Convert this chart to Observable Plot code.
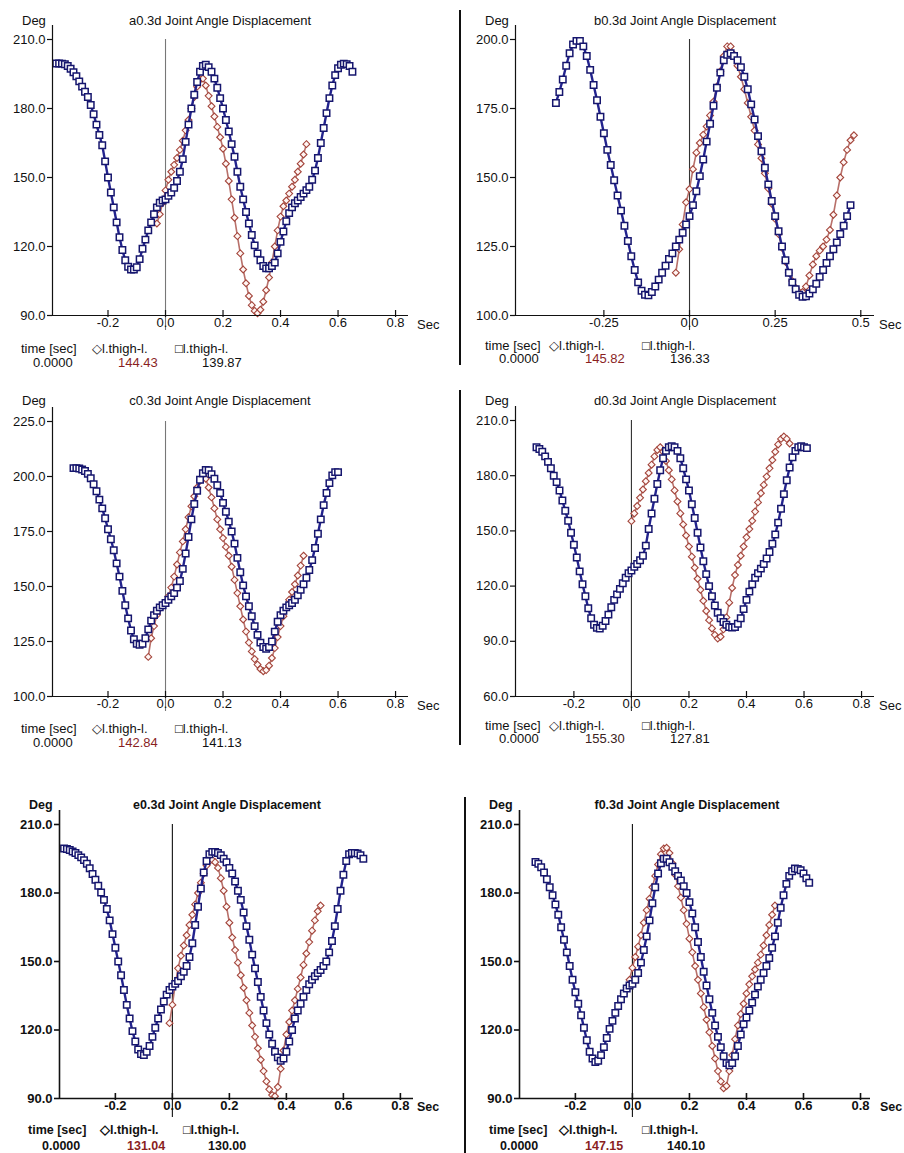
<!DOCTYPE html>
<html><head><meta charset="utf-8">
<script src="https://cdn.jsdelivr.net/npm/d3@7"></script>
<script src="https://cdn.jsdelivr.net/npm/@observablehq/plot@0.6"></script>
<style>
body{margin:0;background:#fff;}
#page{position:relative;width:904px;height:1153px;overflow:hidden;font-family:"Liberation Sans",Arial,sans-serif;color:#111;background:#fff;}
.t{position:absolute;white-space:nowrap;font-size:13px;line-height:1;transform:translateY(-50%);}
.c{transform:translate(-50%,-50%);}
.b{font-weight:bold;font-size:12.5px;}
.sep{position:absolute;width:1.5px;background:#111;}
.pl{position:absolute;}
</style></head><body><div id="page"></div>
<script>
// ---------- data (sampled every 0.01 s) ----------
const step = 0.01;
const xTicks02 = [-0.2, 0, 0.2, 0.4, 0.6, 0.8];
const xTicks025 = [-0.25, 0, 0.25, 0.5];
const yTicksA = [90, 120, 150, 180, 210];
const yTicksB = [100, 125, 150, 175, 200];
const yTicksC = [100, 125, 150, 175, 200, 225];
const yTicksD = [60, 90, 120, 150, 180, 210];

const aBlueStart = -0.38;
const aBlue = [199.6,199.6,199.5,199.2,198.5,197.3,195.8,194,191.8,189.5,187.3,185,181.5,177.5,173,168.5,164,157,150,143.5,137,130.5,124,118.5,114,111.2,110,110,111,114.5,119,123,127,130.5,134,137,139,140,140.5,142,143.5,145.5,148.5,152.5,158,165.5,173,180,186,191.5,196,198.5,199,198,196,193,189,184.5,180,175,170,164.5,159,152.5,146,140.5,135,130,125,120.5,117,114,111.5,110.5,110.5,111.5,113,117,122,126.5,131,134.5,137,138.8,140,141.5,143,144.5,146,149,153,158.5,165,171.5,178,184.5,190,194.5,197.5,199,199.5,199.3,198.5,196];
const aRedStart = -0.03;
const aRed = [130,134,139,144.4,149,152.5,155.5,158.5,162,166,170.5,175,180,185,189.5,192.5,193,190,185.5,181,176.5,172,167.5,162.5,156,148.5,140.5,132.5,124.5,117,110,104,98.5,94.5,92,91,92.5,96,101,106.5,113,120,127,133,137.5,140,143,146,149,152.5,156,160,164.5];

const bBlueStart = -0.39;
const bBlue = [177,181,185.5,190.5,195,198.2,199.5,199.5,197.5,194,189,183.5,178,172,166,160,154.5,149,143.5,138,132.5,127,121.5,116.5,112,109,107.5,107.3,108.5,110.5,113,115.5,118,120.5,122.5,125,127.5,130,133,136,140,145,150.5,156.5,163,169.5,176,182.5,188,192.5,194.5,195,194,192.5,190,186.5,182,176.5,171,165,159.5,153.5,147.5,141.5,136,130.5,125,120,115.5,112,109.5,107.5,106.8,107,108,109.5,111.5,114,116.5,119,121.5,124,126.5,129.5,132.5,136,140];
const bRedStart = -0.04;
const bRed = [115.5,124,133,141,145.8,153,159,162.5,165.5,168.5,172.5,177.5,183,188.5,194,197.5,197.5,194.5,190.5,186.5,182,177,172,167,162,157,151.5,146,140.5,135,129.5,124.5,119.5,115.5,112.5,110,108.5,108.5,110.5,114.5,118.5,121.5,123.5,125,127.5,131,136.5,143.5,150,155.5,160,163.5,165.3];

const cBlueStart = -0.32;
const cBlue = [203.8,203.8,203.6,203.2,202.5,201.2,199.2,196.5,193.3,189.5,185.5,181,176,171.5,166.5,160.5,154.5,148,141.5,135.5,130,126,124,123.5,124,126.5,130.5,134.5,137,139,140.5,141.5,142.5,144,145.5,147,149.5,152.5,158,165,172.5,180.5,187.5,193.5,198.5,201.5,203,202.8,201,199,196,192.5,188,184,179.5,175,169.5,163,156.5,150.5,145.5,141,136.5,132,128,124.5,122.5,121.7,122.5,125,129.5,134,137,139,140.5,141.5,142.5,144,146,148.5,151,154,157.5,162,167.5,174,180.5,187,192.5,197,200.5,202,202];
const cRedStart = -0.06;
const cRed = [118,126.5,132,137,140,141.5,142.8,145.5,149.5,154.5,160,165.5,170.5,176,181.5,186.5,191,195,198,199.5,199,195,190.5,185.5,180.5,176,172,168,164,159,153,147,141,135,129.5,124.5,120.5,117,114.5,112.5,111.5,112,114,117.5,122,127,132,136.5,140.5,144,147.5,151,155,159.5,164];

const dBlueStart = -0.33;
const dBlue = [195.5,194.5,193,190.5,187.5,184,180,176.5,172,166.5,161,155.5,149,142.5,135.5,128,121,114.5,108,102.5,99,97.3,97,98.5,101,104.5,108.5,112.5,115.5,118.5,121.5,124.5,127,128.5,130.5,132,134,136.5,142,151,159.5,167.5,175.5,183,189.5,193.5,195.5,196,195.5,193.5,189.5,184,178,172,164.5,157,149,141,133.5,126.5,120,114.5,109.5,105.5,102.5,100.5,99,97.8,97.5,97.7,99.5,102.5,107.5,112.5,117,121,124.5,127,129.5,132,135,138.5,143,148,154.5,162,170,177.5,184.5,190,193.5,195.5,196,195.5,195];
const dRedStart = 0;
const dRed = [155.3,159.5,163.5,168,172.5,177,181.5,186,190.5,194,195.5,193,188,183,178,172,166,159.5,153.5,147.5,141.5,136,130,124,118,112,106.5,101.5,97,93.5,91.5,92.5,96.5,103,111,119,126,131.5,136.5,141.5,146.5,151,155.5,160.5,165.5,170.5,175,179.5,184,188.5,193,197,200,201.3,200,197.5];

const eBlueStart = -0.38;
const eBlue = [199.5,199.3,198.8,198.2,197.5,196.6,195.6,194.4,192.8,190.8,188.3,185.8,183.2,180.2,177,173,168,162,156,150,144,137.5,131,125,119.5,115,111.5,109.5,109,110.5,113,117,121,125,129,132.5,135.5,137.5,139,140.2,141.5,143.5,145.5,148,152,158,166,174,182,189,194,197,198,198,197.5,196.6,195,193.5,191,188.5,185,181,177,171.5,165.5,159.5,153,147,141,134.5,128.5,123,118,114,110.5,108,106.5,107.5,110.5,115,120,125,128.5,131.5,134.5,137.5,140,142,143.5,145,146.3,148,150,154,159,165.5,173,181,188,194,197,197.5,197.5,197.3,196.5,195];
const eRedStart = -0.01;
const eRed = [123,131,140,147,152.5,157,161.5,166,170.5,175,180,184.5,188.5,192,194,194.5,193.5,191,186.5,181,174,167,160.5,155,149.5,144,138.5,133,127.5,122,117,112,107,102,97.5,94,91.5,91,95,103,111,118,123.5,128.5,133,138,143,148.5,153.5,158.5,163.5,168,172,174.5];

const fBlueStart = -0.34;
const fBlue = [193.6,192.8,191.3,189,186,182.5,179,175,170.5,165,159.5,154,148,142,136.5,131.5,126.5,121,115.5,110.5,107.5,106,106.5,109,112.5,116.5,120.5,124,127.5,130.5,133.5,136,138.2,139.5,140.2,142,145,149.5,155,161,168,175.5,182.5,188.5,193,195,195,193.5,191.5,189.5,187.5,185.5,183,180,176,171,165,158.5,152,145.5,139.5,133.5,127.5,122,117,112.5,108.5,105.5,104.6,105.5,108.5,113,118,122.5,125.5,128.5,132,135.5,139,142,145,148,151.5,156,161,167,173.5,179,184,187.5,189.5,190.7,190.5,190,188.5,186.5,184.5];
const fRedStart = -0.03;
const fRed = [136,138.5,142,147.2,152,156.5,161.5,167,172.5,177.5,182.5,187.5,192.5,197,199.5,199.8,197.5,193,188,183,178,172.5,166.5,160,154,148,142,136,130,124.5,119,113,107.5,102,97.5,94.5,95.5,102,109,116,122,127,131.5,136,140,143.5,146.5,149.5,153,157,161.5,166,170.5,174.5];

const titles = ["a0.3d Joint Angle Displacement","b0.3d Joint Angle Displacement","c0.3d Joint Angle Displacement","d0.3d Joint Angle Displacement","e0.3d Joint Angle Displacement","f0.3d Joint Angle Displacement"];
const redReadouts = ["144.43","145.82","142.84","155.30","131.04","147.15"];
const blueReadouts = ["139.87","136.33","141.13","127.81","130.00","140.10"];
const seriesName = "l.thigh-l.";

// ---------- layout ----------
const panels = [
  {red:aRed, rs:aRedStart, blue:aBlue, bs:aBlueStart, xd:[-0.393,0.845], xt:xTicks02, yd:[90,210], yt:yTicksA,
   box:[0,0,452,340], fr:[52,408,39,315], bold:false, zeroCol:"#777",
   title:[220,20], deg:[22,20], sec:[417,324], r1:348, r2:362, lx:[21,92,175], vx:[33,118,202]},
  {red:bRed, rs:bRedStart, blue:bBlue, bs:bBlueStart, xd:[-0.508,0.540], xt:xTicks025, yd:[100,200], yt:yTicksB,
   box:[460,0,444,340], fr:[515,874,39,315], bold:false, zeroCol:"#333",
   title:[685,20], deg:[485,20], sec:[879,324], r1:345, r2:358, lx:[485,549,642], vx:[499,585,670]},
  {red:cRed, rs:cRedStart, blue:cBlue, bs:cBlueStart, xd:[-0.393,0.845], xt:xTicks02, yd:[100,225], yt:yTicksC,
   box:[0,380,452,340], fr:[52,408,421,696], bold:false, zeroCol:"#777",
   title:[220,400], deg:[22,400], sec:[417,705], r1:728, r2:742, lx:[21,92,175], vx:[33,118,202]},
  {red:dRed, rs:dRedStart, blue:dBlue, bs:dBlueStart, xd:[-0.403,0.845], xt:xTicks02, yd:[60,210], yt:yTicksD,
   box:[460,380,444,340], fr:[515,874,420,696], bold:false, zeroCol:"#333",
   title:[685,400], deg:[485,400], sec:[879,705], r1:725, r2:738, lx:[485,549,642], vx:[499,585,670]},
  {red:eRed, rs:eRedStart, blue:eBlue, bs:eBlueStart, xd:[-0.396,0.846], xt:xTicks02, yd:[90,210], yt:yTicksA,
   box:[0,770,452,350], fr:[59,413,824,1098], bold:true, zeroCol:"#111",
   title:[227,805], deg:[29,805], sec:[417,1107], r1:1130, r2:1146, lx:[28,100,183], vx:[42,127,208]},
  {red:fRed, rs:fRedStart, blue:fBlue, bs:fBlueStart, xd:[-0.396,0.835], xt:xTicks02, yd:[90,210], yt:yTicksA,
   box:[470,770,434,350], fr:[519,870,824,1098], bold:true, zeroCol:"#111",
   title:[687,805], deg:[489,805], sec:[880,1107], r1:1130, r2:1146, lx:[489,559,642], vx:[500,585,667]}
];

const page = document.getElementById("page");
function txt(s, x, y, opts = {}) {
  const d = document.createElement("div");
  d.className = "t" + (opts.center ? " c" : "") + (opts.bold ? " b" : "");
  d.style.left = x + "px"; d.style.top = y + "px";
  if (opts.color) d.style.color = opts.color;
  if (opts.size) d.style.fontSize = opts.size + "px";
  d.textContent = s;
  page.appendChild(d);
}
function sep(x, y, h) {
  const d = document.createElement("div");
  d.className = "sep"; d.style.left = x + "px"; d.style.top = y + "px"; d.style.height = h + "px";
  page.appendChild(d);
}
const fmtX = d => d === 0 ? "0.0" : (Math.abs(d * 10 - Math.round(d * 10)) < 1e-9 ? d.toFixed(1) : d.toFixed(2));
const toRows = (vals, start) => vals.map((v, i) => ({t: +(start + i * step).toFixed(3), v}));

panels.forEach((p, k) => {
  const [bl, bt, bw, bh] = p.box;
  const [x0, x1, y0, y1] = p.fr;
  const ky = (y1 - y0) / (p.yd[1] - p.yd[0]); // px per degree
  const px = n => n / ky;
  const ymin = p.yd[0], ymax = p.yd[1], xmin = p.xd[0];
  const axisW = p.bold ? 1.6 : 1.2;
  const redRows = toRows(p.red, p.rs), blueRows = toRows(p.blue, p.bs);
  const svg = Plot.plot({
    width: bw, height: bh,
    marginLeft: x0 - bl, marginRight: bl + bw - x1,
    marginTop: y0 - bt, marginBottom: bt + bh - y1,
    x: {domain: p.xd}, y: {domain: p.yd},
    style: {fontFamily: "'Liberation Sans', Arial, sans-serif", fontSize: "13px", color: "#111", background: "transparent", fontWeight: p.bold ? "bold" : "normal"},
    marks: [
      Plot.ruleX([0], {y1: ymin - px(p.bold ? 19 : 15), y2: ymax, stroke: p.zeroCol, strokeWidth: 1.1}),
      Plot.line(redRows, {x: "t", y: "v", stroke: "#b8706a", strokeWidth: 1.6}),
      Plot.dot(redRows, {x: "t", y: "v", symbol: "diamond2", r: 3.1, stroke: "#a3443a", fill: "#fff6f4", strokeWidth: 1.1}),
      Plot.line(blueRows, {x: "t", y: "v", stroke: "#23238e", strokeWidth: 2.4}),
      Plot.dot(blueRows, {x: "t", y: "v", symbol: "square2", r: 4.1, stroke: "#16166e", fill: "white", strokeWidth: 1.5}),
      Plot.ruleY([ymin], {stroke: "#111", strokeWidth: axisW}),
      Plot.ruleX([xmin], {y1: ymin, y2: ymax + px(14), stroke: "#111", strokeWidth: axisW}),
      Plot.ruleX(p.xt, {x: d => d, y1: ymin - px(2), y2: ymin + px(5), stroke: "#111", strokeWidth: axisW}),
      Plot.axisY({ticks: p.yt, tickSize: 5, tickPadding: 2, tickFormat: d => d.toFixed(1), label: null, strokeWidth: axisW}),
      Plot.axisX({ticks: p.xt, tickSize: 0, tickPadding: 2, tickFormat: fmtX, label: null})
    ]
  });
  svg.classList.add("pl");
  svg.style.left = bl + "px"; svg.style.top = bt + "px";
  page.appendChild(svg);

  const o = {bold: p.bold};
  txt(titles[k], p.title[0], p.title[1], {center: true, bold: p.bold});
  txt("Deg", p.deg[0], p.deg[1], o);
  txt("Sec", p.sec[0], p.sec[1], o);
  txt("time [sec]", p.lx[0], p.r1, o);
  txt("\u25C7" + seriesName, p.lx[1], p.r1, o);
  txt("\u25A1" + seriesName, p.lx[2], p.r1, o);
  txt("0.0000", p.vx[0], p.r2, o);
  txt(redReadouts[k], p.vx[1], p.r2, {bold: p.bold, color: k === 3 ? "#3a2020" : "#8a1f1f"});
  txt(blueReadouts[k], p.vx[2], p.r2, o);
});

sep(459, 10, 355);
sep(459, 390, 355);
sep(464, 797, 356);
</script>
</body></html>
